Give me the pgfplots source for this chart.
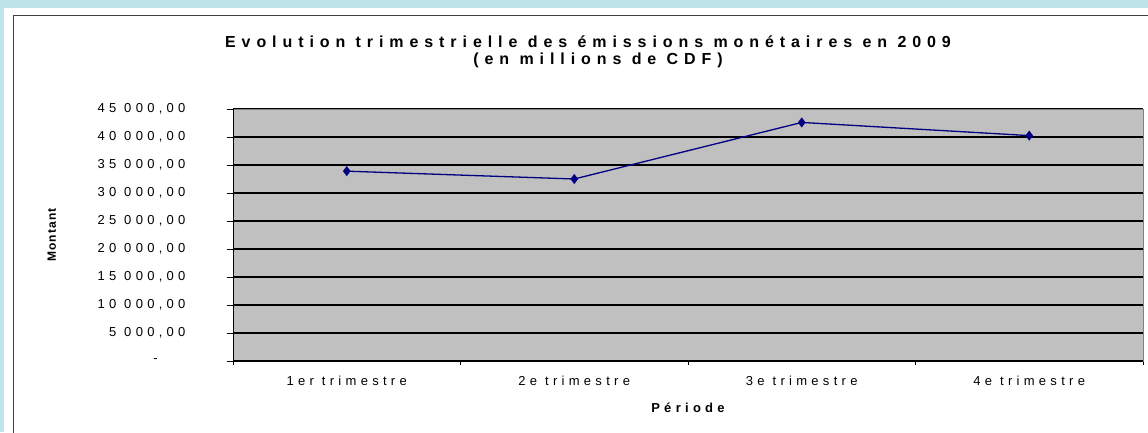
\documentclass[border=0pt]{standalone}
\usepackage{pgfplots}
\pgfplotsset{compat=1.18}
\usepackage{fontspec}
\setmainfont{Liberation Sans}
\newfontfamily\spaced[LetterSpace=33]{Liberation Sans}
\newfontfamily\spacedt[LetterSpace=37]{Liberation Sans}
\newfontfamily\spacedm[LetterSpace=10]{Liberation Sans}
\definecolor{cyanbg}{HTML}{BEE6EA}
\definecolor{plotgray}{HTML}{C0C0C0}
\definecolor{navyline}{HTML}{000080}
\begin{document}
\begin{tikzpicture}[x=1pt,y=1pt]
\useasboundingbox (0,0) rectangle (1148,432);
\fill[cyanbg] (0,0) rectangle (1148,432);
\fill[white] (4,0) rectangle (1148,424);
\draw[line width=1.4pt, black!75] (13.5,-2) -- (13.5,416.5) -- (1150,416.5);
\node[font=\spacedt\bfseries\fontsize{16}{18}\selectfont, anchor=center] at (588,390) {Evolution trimestrielle des émissions monétaires en 2009};
\node[font=\spacedt\bfseries\fontsize{16}{18}\selectfont, anchor=center] at (598,372) {(en millions de CDF)};
\begin{axis}[
  at={(233pt,71pt)}, anchor=south west,
  width=910pt, height=252pt, scale only axis,
  xmin=-0.5, xmax=3.5, ymin=0, ymax=45000,
  scaled y ticks=false,
  xtick={0,1,2,3},
  xticklabels={1er trimestre,2e trimestre,3e trimestre,4e trimestre},
  minor xtick={-0.5,0.5,1.5,2.5,3.5},
  major x tick style={draw=none},
  minor tick length=4pt,
  ytick={0,5000,...,45000},
  yticklabels={{\makebox[32pt][l]{-}},{5 000,00},{10 000,00},{15 000,00},{20 000,00},{25 000,00},{30 000,00},{35 000,00},{40 000,00},{45 000,00}},
  major tick length=6pt,
  tick align=outside,
  xtick pos=bottom, ytick pos=left,
  tick style={black, line width=1pt},
  ymajorgrids,
  grid style={black, line width=1.1pt},
  axis background/.style={fill=plotgray},
  axis line style={draw=gray, line width=1pt},
  ticklabel style={font=\spaced\fontsize{13}{15}\selectfont},
  yticklabel style={anchor=east, xshift=-38pt},
  xticklabel style={anchor=north, yshift=-6pt},
  xlabel={Période},
  ylabel={Montant},
  xlabel style={at={(axis description cs:0.5,0)}, anchor=center, yshift=-47pt, font=\spaced\bfseries\fontsize{13}{15}\selectfont},
  ylabel style={at={(axis description cs:-0.199,0.5)}, anchor=center, font=\spacedm\bfseries\fontsize{12}{14}\selectfont},
]
\addplot[navyline, line width=1.3pt, mark=diamond*, mark size=4pt, mark options={fill=navyline, draw=navyline}]
  coordinates {(0,33900) (1,32500) (2,42600) (3,40250)};
\draw[black, line width=1.2pt] (rel axis cs:0,0) -- (rel axis cs:0,1);
\draw[black, line width=1.2pt] (rel axis cs:0,0) -- (rel axis cs:1,0);
\end{axis}
\end{tikzpicture}
\end{document}
